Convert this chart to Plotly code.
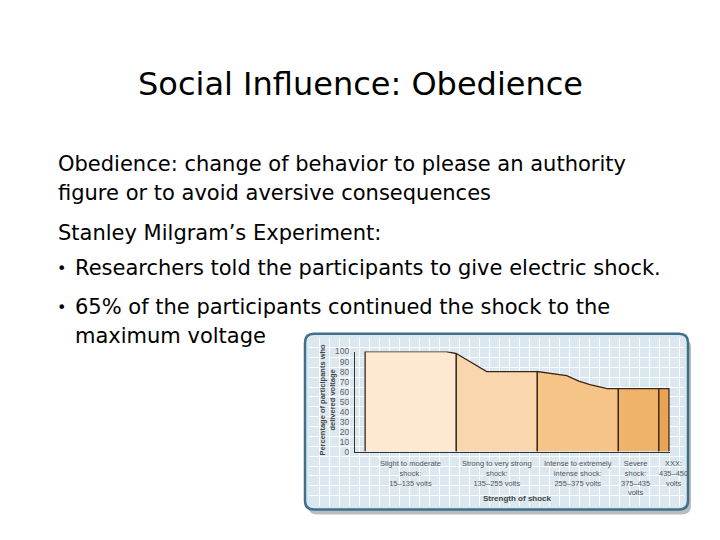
import plotly.graph_objects as go

# slide text
title = "Social Influence: Obedience"
body_lines = [
    "Obedience: change of behavior to please an authority",
    "figure or to avoid aversive consequences",
    "Stanley Milgram’s Experiment:",
]
bullet_lines = [
    ["Researchers told the participants to give electric shock."],
    ["65% of the participants continued the shock to the", "maximum voltage"],
]

# chart data: switch index (15 V each) vs. % still obeying
curve_x = [0, 8, 9, 12, 17, 19.9, 21.1, 22.2, 23.9, 25, 29, 30]
curve_y = [100, 100, 98, 80, 80, 76, 70.5, 67, 63, 63, 63, 63]
region_edges = [0, 9, 17, 25, 29, 30]
region_labels = [
    "Slight to moderate<br>shock:<br>15–135 volts",
    "Strong to very strong<br>shock:<br>135–255 volts",
    "Intense to extremely<br>intense shock:<br>255–375 volts",
    "Severe<br>shock:<br>375–435<br>volts",
    "XXX:<br>435–450<br>volts",
]
region_colors = ["#fde8d2", "#f9d6ae", "#f6c487", "#f0b36a", "#e9a352"]
y_ticks = list(range(0, 101, 10))

# page body has an 8px margin, so the figure is drawn 8px smaller and offset
OFF = 8
W, H = 720 - OFF, 540 - OFF


def px(x):
    return (x - OFF) / W


def py(y):
    return 1 - (y - OFF) / H


def rounded_rect(x0, y0, x1, y1, r):
    # pixel box -> paper-space svg path with rounded corners
    X = lambda v: f"{px(v):.5f}"
    Y = lambda v: f"{py(v):.5f}"
    return (f"M {X(x0 + r)},{Y(y0)} L {X(x1 - r)},{Y(y0)} Q {X(x1)},{Y(y0)} {X(x1)},{Y(y0 + r)} "
            f"L {X(x1)},{Y(y1 - r)} Q {X(x1)},{Y(y1)} {X(x1 - r)},{Y(y1)} "
            f"L {X(x0 + r)},{Y(y1)} Q {X(x0)},{Y(y1)} {X(x0)},{Y(y1 - r)} "
            f"L {X(x0)},{Y(y0 + r)} Q {X(x0)},{Y(y0)} {X(x0 + r)},{Y(y0)} Z")


fig = go.Figure()

# background grid panel first, so the chart is drawn over it
fig.add_trace(go.Scatter(x=[0], y=[0], mode="markers", marker=dict(opacity=0),
                         hoverinfo="skip", showlegend=False))

for i, col in enumerate(region_colors):
    a, b = region_edges[i], region_edges[i + 1]
    xs = [x for x in curve_x if a <= x <= b]
    ys = [curve_y[curve_x.index(x)] for x in xs]
    fig.add_trace(go.Scatter(
        x=[a] + xs + [b], y=[0] + ys + [0], xaxis="x2", yaxis="y2",
        mode="lines", fill="toself", fillcolor=col,
        line=dict(color="#3a2616", width=1.3),
        hoverinfo="skip", cliponaxis=False, showlegend=False,
    ))

box_x0, box_x1, box_y0, box_y1 = 305, 688, 335, 514
ax_x0, ax_x1 = 355, 670
xr = [-1, 30.1]


def unit_to_px(u):
    return ax_x0 + (u - xr[0]) * (ax_x1 - ax_x0) / (xr[1] - xr[0])


fig.update_layout(
    width=W, height=H,
    margin=dict(l=0, r=0, t=0, b=0),
    paper_bgcolor="white",
    plot_bgcolor="rgba(0,0,0,0)",
    font=dict(family="Liberation Sans, Arial", color="#444444", size=8),
    xaxis=dict(domain=[px(box_x0 + 4), px(box_x1 - 4)], range=[0, 37.5],
               dtick=1, showgrid=True, gridcolor="white", gridwidth=1,
               showticklabels=False, zeroline=False),
    yaxis=dict(domain=[py(box_y1 - 4), py(box_y0 + 4)], range=[0, 17],
               dtick=1, showgrid=True, gridcolor="white", gridwidth=1,
               showticklabels=False, zeroline=False),
    xaxis2=dict(domain=[px(ax_x0), px(ax_x1)], range=xr, anchor="y2",
                showgrid=False, zeroline=False, showticklabels=False,
                showline=True, linecolor="#333333", linewidth=1.2),
    yaxis2=dict(domain=[py(455), py(353)], range=[0, 100], anchor="x2",
                tickvals=y_ticks, showgrid=False, zeroline=False,
                showline=True, linecolor="#333333", linewidth=1.2,
                ticks="", ticklabelstandoff=3,
                tickfont=dict(size=8.5, color="#666666")),
)

# chart box: shadow, background, border
fig.add_shape(type="path", xref="paper", yref="paper",
              path=rounded_rect(box_x0 + 3, box_y0 + 5, box_x1 + 3, box_y1 + 5, 9),
              fillcolor="#b9bdc1", line=dict(width=0), layer="below")
fig.add_shape(type="path", xref="paper", yref="paper",
              path=rounded_rect(box_x0, box_y0, box_x1, box_y1, 9),
              fillcolor="#dbe8f0", line=dict(width=0), layer="below")
fig.add_shape(type="path", xref="paper", yref="paper",
              path=rounded_rect(box_x0, box_y0, box_x1, box_y1, 9),
              fillcolor="rgba(0,0,0,0)", line=dict(color="#3f6f8a", width=2.5),
              layer="above")

# region labels under x axis
label_shift = [0, 0, 0, -0.3, 0.9]
for i, lab in enumerate(region_labels):
    cx = (region_edges[i] + region_edges[i + 1]) / 2 + label_shift[i]
    fig.add_annotation(x=px(unit_to_px(cx)), y=py(461), xref="paper", yref="paper",
                       text=lab, showarrow=False, yanchor="top", xanchor="center",
                       font=dict(size=7.5, color="#555555"))

fig.add_annotation(x=px(517), y=py(503), xref="paper", yref="paper",
                   text="<b>Strength of shock</b>", showarrow=False,
                   xanchor="center", yanchor="middle",
                   font=dict(size=8, color="#444444"))
fig.add_annotation(x=px(328), y=py(402), xref="paper", yref="paper",
                   text="<b>Percentage of participants who<br>delivered voltage</b>",
                   showarrow=False, textangle=-90, xanchor="center", yanchor="middle",
                   font=dict(size=7.5, color="#444444"))

# slide text
slide_font = "DejaVu Sans"
fig.add_annotation(x=px(360), y=py(80), xref="paper", yref="paper", text=title,
                   showarrow=False, xanchor="center", yanchor="middle",
                   font=dict(family=slide_font, size=32, color="black"))

body_y = [162, 191, 232]
for t, yy in zip(body_lines, body_y):
    fig.add_annotation(x=px(56), y=py(yy), xref="paper", yref="paper", text=t,
                       showarrow=False, xanchor="left", yanchor="middle",
                       font=dict(family=slide_font, size=21, color="black"))

bullet_y = [[268], [308, 337]]
for lines, ys in zip(bullet_lines, bullet_y):
    fig.add_annotation(x=px(55), y=py(ys[0]), xref="paper", yref="paper", text="•",
                       showarrow=False, xanchor="left", yanchor="middle",
                       font=dict(family=slide_font, size=16, color="black"))
    for t, yy in zip(lines, ys):
        fig.add_annotation(x=px(73), y=py(yy), xref="paper", yref="paper", text=t,
                           showarrow=False, xanchor="left", yanchor="middle",
                           font=dict(family=slide_font, size=21, color="black"))

fig.write_html("out.html")
